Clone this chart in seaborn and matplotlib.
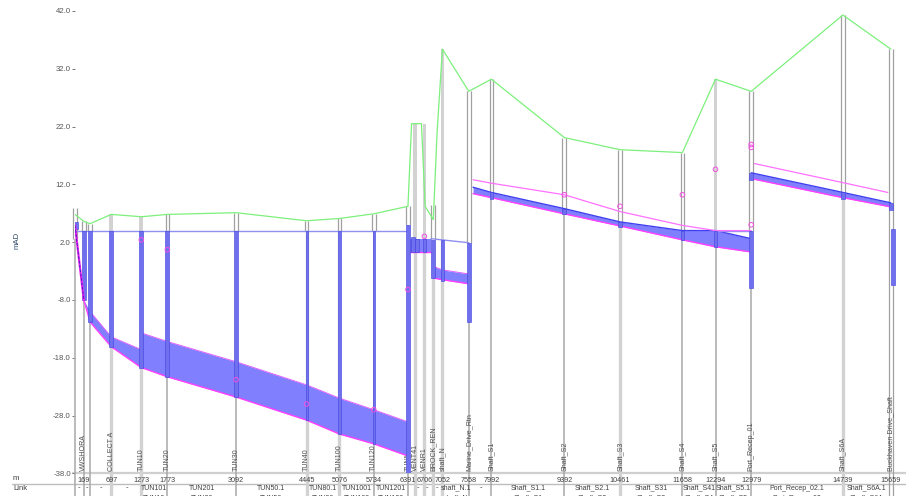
import matplotlib
matplotlib.use("Agg")
import matplotlib.pyplot as plt
import numpy as np
import pandas as pd
import seaborn as sns

# long section values, chainage in m and levels in mAD
node_names = ["", "VWSHORA", "", "COLLECT A", "TUN10", "TUN20", "TUN30", "TUN40", "TUN100", "TUN120",
              "TUNNEL", "VENT41", "VENR1", "BROCK_REN", "shaft_N", "Marine_Drive_Rtn", "Shaft_S1",
              "Shaft_S2", "Shaft_S3", "Shaft_S4", "Shaft_S5", "Port_Recep_01", "Shaft_S6A",
              "Buckhaven Drive_Shaft"]
node_chain = [0, 169, 288, 697, 1273, 1773, 3092, 4445, 5076, 5734,
              6391, 6530, 6706, 6877, 7052, 7558, 7992,
              9392, 10461, 11658, 12294, 12979, 14739, 15659]
node_ground = [7.9, 5.6, 5.2, 6.8, 6.4, 6.8, 7.1, 5.7, 6.1, 6.9,
               8.2, 22.5, 22.5, 8.5, 35.4, 28.1, 30.2,
               20.1, 18.0, 17.5, 30.2, 28.1, 41.3, 35.4]
chain_labels = ["", "169", "", "697", "1273", "1773", "3092", "4445", "5076", "5734",
                "6391", "", "6706", "", "7052", "7558", "7992",
                "9392", "10461", "11658", "12294", "12979", "14739", "15659"]

ground_chain = [0, 169, 288, 697, 1273, 1773, 3092, 4445, 5076, 5734, 6391, 6460, 6650, 6720, 6877, 6950, 7052,
                7558, 7992, 9392, 10461, 11658, 12294, 12979, 14739, 15659]
ground_level = [6.8, 5.6, 5.2, 6.8, 6.4, 6.8, 7.1, 5.7, 6.1, 6.9, 8.2, 22.5, 22.5, 8.2, 5.9, 21.0, 35.4,
                28.1, 30.2, 20.1, 18.0, 17.5, 30.2, 28.1, 41.3, 35.4]

shaft_chain = [20, 169, 288, 697, 1273, 1773, 3092, 4445, 5076, 5734, 6391, 6490, 6565, 6706,
               6877, 7052, 7558, 7992, 9392, 10461, 11658, 12294, 12979, 12979, 14739, 15659, 15700]
shaft_top = [5.5, 4.0, 4.0, 4.0, 4.0, 4.0, 4.0, 4.0, 4.0, 4.0, 5.0, 2.9, 2.6, 2.6,
             2.4, 2.3, 1.9, 10.6, 7.8, 5.5, 4.0, 4.0, 4.0, 14.0, 10.6, 8.8, 4.3]
shaft_bottom = [4.3, -8.0, -11.8, -16.1, -19.7, -21.3, -24.8, -28.8, -31.2, -32.9, -38.0, 0.3, 0.3, 0.3,
                -4.2, -4.7, -11.8, 9.5, 6.8, 4.7, 2.3, 1.2, -5.9, 12.8, 9.4, 7.6, -5.4]

# conduit soffit/invert runs, repeated chainage is a step at a shaft
tunnel_chain = [169, 288, 697, 1273, 1273, 1773, 3092, 4445, 5076, 5734, 6391]
tunnel_top = [-8.0, -10.0, -14.4, -16.6, -13.7, -15.2, -18.7, -22.7, -25.0, -27.0, -29.1]
tunnel_invert = [-8.0, -11.8, -16.1, -19.7, -19.7, -21.3, -24.8, -28.8, -31.2, -32.9, -35.0]

north_chain = [6391, 6833]
north_top = [2.6, 2.6]
north_invert = [0.3, 0.3]

shaft_n_chain = [6877, 7052, 7558]
shaft_n_top = [-2.2, -2.8, -3.5]
shaft_n_invert = [-4.2, -4.5, -5.2]

south_chain = [7640, 7992, 9392, 10461, 11658, 12294, 12979]
south_top = [11.5, 10.6, 7.8, 5.5, 4.0, 4.0, 2.6]
south_invert = [10.4, 9.7, 6.9, 4.8, 2.4, 1.2, 0.3]

recep_chain = [12979, 14739, 15659]
recep_top = [14.0, 10.6, 8.8]
recep_invert = [13.0, 9.7, 8.1]

inlet_chain = [0, 169]
inlet_level = [4.9, -8.0]

water_chain = [20, 6391]
water_level = [4.0, 4.0]
water_n_chain = [6833, 7558]
water_n_level = [2.6, 1.9]
water_s_chain = [12294, 12979]
water_s_level = [4.0, 4.0]

hgl_chain = [7640, 7992, 9392, 10461, 11658, 12294, 12979]
hgl_level = [12.8, 12.2, 10.2, 7.3, 4.9, 4.0, 4.0]
hgl2_chain = [13040, 14739, 15600]
hgl2_level = [15.6, 12.3, 10.6]

marker_chain = [1273, 1773, 3092, 4445, 5734, 6391, 6706, 9392, 10461, 11658, 12294, 12979, 12979, 12979]
marker_level = [2.4, 0.7, -21.8, -26.0, -27.0, -6.2, 3.0, 10.2, 8.2, 10.2, 14.6, 18.9, 18.4, 5.0]

link_names = ["TUN101", "TUN201", "TUN50.1", "TUN80.1", "TUN1001", "TUN1201", "shaft_N.1", "Shaft_S1.1",
              "Shaft_S2.1", "Shaft_S31", "Shaft_S41", "Shaft_S5.1", "Port_Recep_02.1", "Shaft_S6A.1"]
link_nodes = ["TUN10", "TUN20", "TUN50", "TUN80", "TUN100", "TUN120", "shaft_N", "Shaft_S1",
              "Shaft_S2", "Shaft_S3", "Shaft_S4", "Shaft_S5", "Port_Recep_02", "Shaft_S6A"]
link_start = [1273, 1773, 3092, 4445, 5076, 5734, 7052, 7992, 9392, 10461, 11658, 12294, 12979, 14739]
link_end = [1773, 3092, 4445, 5076, 5734, 6391, 7558, 9392, 10461, 11658, 12294, 12979, 14739, 15659]
dash_chain = [80, 230, 500, 1000, 6580, 6760, 6950, 7800]

y_ticks = [42, 32, 22, 12, 2, -8, -18, -28, -38]

sns.set_theme(style="white")
plt.rcParams["font.family"] = ["Liberation Sans Narrow", "Liberation Sans", "DejaVu Sans"]

W, H = 906, 496
fig = plt.figure(figsize=(W / 100, H / 100), dpi=100)
ax = fig.add_axes([75 / W, 1 - 473.3 / H, 825 / W, 462.3 / H])
ax.set_xlim(0, 825 / 0.0521)
ax.set_ylim(-38, 42)
sns.despine(ax=ax, left=True, bottom=True)
ax.patch.set_alpha(0)

ax.set_xticks([])
ax.set_yticks(y_ticks, [f"{v:.1f}" for v in y_ticks])
ax.tick_params(axis="y", left=True, length=2, width=0.7, pad=1, color="#777777", labelsize=5.6, labelcolor="#555555")
fig.text(17 / W, 1 - 240 / H, "mAD", rotation=90, fontsize=5.6, color="#304a6a", ha="center", va="center")

# table rules below the section
PAGE_BOTTOM = -42
fig.add_artist(plt.Line2D([73 / W, 1], [1 - 473.3 / H] * 2, color="#cfcfcf", lw=1.6, zorder=0))
fig.add_artist(plt.Line2D([12 / W, 1], [1 - 484 / H] * 2, color="#bdbdbd", lw=1, zorder=0))

# manhole lines: pair above the water, one line below it
solid_nodes = {"COLLECT A", "TUN10", "VENT41", "VENR1", "shaft_N", "Shaft_S5"}
light_below = {"COLLECT A", "TUN10", "TUN40", "TUN100", "VENT41", "VENR1", "BROCK_REN", "shaft_N",
               "Shaft_S3", "Shaft_S6A"}
water_at = {}
for chain, top in zip(shaft_chain, shaft_top):
    water_at.setdefault(chain, top)
half = 35
for name, chain, ground in zip(node_names, node_chain, node_ground):
    pair_end = water_at.get(chain, 2.6)
    if name == "Buckhaven Drive_Shaft":
        pair_end = PAGE_BOTTOM
    if name in solid_nodes:
        ax.fill_between([chain - half, chain + half], pair_end, ground, color="#d2d2d2", lw=0, zorder=1)
    else:
        ax.vlines([chain - half, chain + half], pair_end, ground, color="#a0a0a0", lw=0.9, zorder=1.2, clip_on=False)
    if name in light_below:
        ax.vlines(chain, PAGE_BOTTOM, pair_end, color="#d2d2d2", lw=2.4, zorder=1.1, clip_on=False)
    else:
        ax.vlines(chain, PAGE_BOTTOM, pair_end, color="#a8a8a8", lw=1.1, zorder=1.1, clip_on=False)

# filled conduits
fill_colour = "#8080ff"
top_pink = "#e060ff"
for cx, top, inv in [(tunnel_chain, tunnel_top, tunnel_invert), (north_chain, north_top, north_invert),
                     (shaft_n_chain, shaft_n_top, shaft_n_invert), (south_chain, south_top, south_invert),
                     (recep_chain, recep_top, recep_invert)]:
    ax.fill_between(cx, inv, top, color=fill_colour, lw=0, zorder=2)
    sns.lineplot(x=cx, y=inv, color="#ff40ff", lw=1, estimator=None, sort=False, ax=ax, zorder=3)

sns.lineplot(x=tunnel_chain[1:], y=tunnel_top[1:], color=top_pink, lw=0.7, estimator=None, sort=False, ax=ax, zorder=3)
sns.lineplot(x=shaft_n_chain, y=shaft_n_top, color=top_pink, lw=0.7, estimator=None, sort=False, ax=ax, zorder=3)
sns.lineplot(x=south_chain, y=south_top, color="#4040f0", lw=1, estimator=None, sort=False, ax=ax, zorder=3)
sns.lineplot(x=recep_chain, y=recep_top, color="#4040f0", lw=1, estimator=None, sort=False, ax=ax, zorder=3)

# shafts full of water
thin_shafts = [4445, 5734]
shafts = pd.DataFrame({"chain": shaft_chain, "top": shaft_top, "bottom": shaft_bottom})
bar_width = np.where(shafts["chain"].isin(thin_shafts), 38, 72)
ax.bar(shafts["chain"], shafts["top"] - shafts["bottom"], bottom=shafts["bottom"], width=bar_width,
       color="#7070ee", edgecolor="#4040e0", lw=0.4, zorder=4)

# water surface and the other long lines
for cx, lv in [(water_chain, water_level), (water_n_chain, water_n_level), (water_s_chain, water_s_level)]:
    sns.lineplot(x=cx, y=lv, color="#9090f0", lw=1, estimator=None, sort=False, ax=ax, zorder=3)
sns.lineplot(x=inlet_chain, y=inlet_level, color="#f020f0", lw=1.6, estimator=None, sort=False, ax=ax, zorder=5)
sns.lineplot(x=inlet_chain, y=inlet_level, color="#3020c0", lw=0.6, linestyle="--", estimator=None, sort=False, ax=ax, zorder=5.5)
sns.lineplot(x=hgl_chain, y=hgl_level, color="#ff70ff", lw=0.9, estimator=None, sort=False, ax=ax, zorder=3)
sns.lineplot(x=hgl2_chain, y=hgl2_level, color="#ff70ff", lw=0.9, estimator=None, sort=False, ax=ax, zorder=3)
sns.lineplot(x=ground_chain, y=ground_level, color="#7cf07c", lw=0.9, estimator=None, sort=False, ax=ax, zorder=6)
ax.scatter(marker_chain, marker_level, s=11, facecolors="none", edgecolors="#f050e0", lw=0.7, zorder=7)

# node names and chainages
for name, chain in zip(node_names, node_chain):
    if name:
        ax.text(chain, -37.6, name, rotation=90, ha="center", va="bottom", fontsize=5.1, color="#505050", zorder=1.5)
for label, chain in zip(chain_labels, node_chain):
    if label:
        ax.annotate(label, (chain, -38), xytext=(0, -2.5), textcoords="offset points", ha="center", va="top",
                    fontsize=5.2, color="#404040", annotation_clip=False, zorder=1.5)

# table text
row_y = 1 - 488 / H
fig.text(13 / W, 1 - 479 / H, "m", fontsize=5.6, color="#404040", va="center")
fig.text(13 / W, row_y, "Link", fontsize=5.6, color="#404040", va="center")
trans = ax.get_xaxis_transform()
fig_y = ax.transAxes.inverted().transform(fig.transFigure.transform((0, row_y)))[1]
next_y = ax.transAxes.inverted().transform(fig.transFigure.transform((0, 1 - 498 / H)))[1]
for name, node, a, b in zip(link_names, link_nodes, link_start, link_end):
    ax.text((a + b) / 2, fig_y, name, transform=trans, fontsize=5, color="#404040", ha="center", va="center", clip_on=False)
    ax.text((a + b) / 2, next_y, node, transform=trans, fontsize=5, color="#404040", ha="center", va="center", clip_on=False)
for chain in dash_chain:
    ax.text(chain, fig_y, "-", transform=trans, fontsize=5.6, color="#404040", ha="center", va="center", clip_on=False)

fig.savefig("out.png", dpi=100)
